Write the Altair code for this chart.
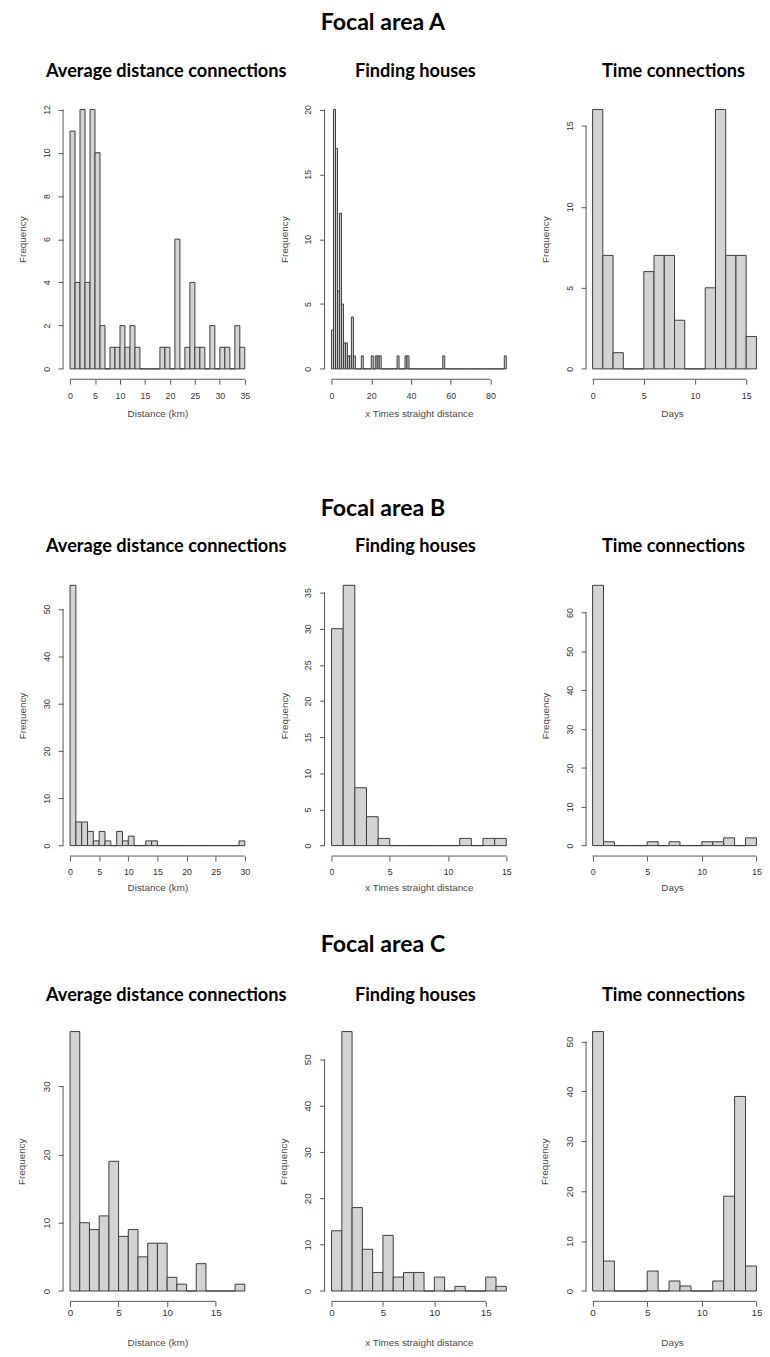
import altair as alt
import pandas as pd

# ---------------- data (counts per 1-unit bin, starting at 0) ----------------
A_avg_counts = [11, 4, 12, 4, 12, 10, 2, 0, 1, 1, 2, 1, 2, 1, 0, 0, 0, 0, 1, 1,
                0, 6, 0, 1, 4, 1, 1, 0, 2, 0, 1, 1, 0, 2, 1]
A_find_counts = [3, 20, 17, 6, 12, 5, 2, 2, 1, 1,
                 4, 1, 0, 0, 0, 1, 0, 0, 0, 0,
                 1, 0, 1, 1, 1, 0, 0, 0, 0, 0,
                 0, 0, 0, 1, 0, 0, 0, 1, 1, 0,
                 0, 0, 0, 0, 0, 0, 0, 0, 0, 0,
                 0, 0, 0, 0, 0, 0, 1, 0, 0, 0,
                 0, 0, 0, 0, 0, 0, 0, 0, 0, 0,
                 0, 0, 0, 0, 0, 0, 0, 0, 0, 0,
                 0, 0, 0, 0, 0, 0, 0, 1]
A_time_counts = [16, 7, 1, 0, 0, 6, 7, 7, 3, 0, 0, 5, 16, 7, 7, 2]

B_avg_counts = [55, 5, 5, 3, 1, 3, 1, 0, 3, 1, 2, 0, 0, 1, 1, 0, 0, 0, 0, 0,
                0, 0, 0, 0, 0, 0, 0, 0, 0, 1]
B_find_counts = [30, 36, 8, 4, 1, 0, 0, 0, 0, 0, 0, 1, 0, 1, 1]
B_time_counts = [67, 1, 0, 0, 0, 1, 0, 1, 0, 0, 1, 1, 2, 0, 2]

C_avg_counts = [38, 10, 9, 11, 19, 8, 9, 5, 7, 7, 2, 1, 0, 4, 0, 0, 0, 1]
C_find_counts = [13, 56, 18, 9, 4, 12, 3, 4, 4, 0, 3, 0, 1, 0, 0, 3, 1]
C_time_counts = [52, 6, 0, 0, 0, 4, 0, 2, 1, 0, 0, 2, 19, 39, 5]

# tick values
A_avg_xticks = [0, 5, 10, 15, 20, 25, 30, 35]
A_avg_yticks = [0, 2, 4, 6, 8, 10, 12]
A_find_xticks = [0, 20, 40, 60, 80]
A_find_yticks = [0, 5, 10, 15, 20]
A_time_xticks = [0, 5, 10, 15]
A_time_yticks = [0, 5, 10, 15]
B_avg_xticks = [0, 5, 10, 15, 20, 25, 30]
B_avg_yticks = [0, 10, 20, 30, 40, 50]
B_find_xticks = [0, 5, 10, 15]
B_find_yticks = [0, 5, 10, 15, 20, 25, 30, 35]
B_time_xticks = [0, 5, 10, 15]
B_time_yticks = [0, 10, 20, 30, 40, 50, 60]
C_avg_xticks = [0, 5, 10, 15]
C_avg_yticks = [0, 10, 20, 30]
C_find_xticks = [0, 5, 10, 15]
C_find_yticks = [0, 10, 20, 30, 40, 50]
C_time_xticks = [0, 5, 10, 15]
C_time_yticks = [0, 10, 20, 30, 40, 50]

area_titles = ["Focal area A", "Focal area B", "Focal area C"]
panel_titles = ["Average distance connections", "Finding houses", "Time connections"]
x_titles = ["Distance (km)", "x Times straight distance", "Days"]

# ---------------- layout / style ----------------
COL_W = [192, 192, 175]
ROW_H = [285, 286, 285]
TITLE_ROW_H = [56, 179, 148]
TITLE_ROW_DY = [-39, 32.5, 7]
ROW_CFG = [
    dict(xlabpad=8, xtitlepad=8, labsize=9, toff=19),
    dict(xlabpad=7, xtitlepad=6, labsize=9, toff=20),
    dict(xlabpad=1, xtitlepad=21, labsize=10, toff=17),
]
TITLE_DX = [9, -3.6, 1.5]
MAIN_DX = -36.6

BAR_FILL = "#d3d3d3"
BAR_STROKE = "#3a3a3a"
AXIS_COL = "#555555"
LAB_COL = "#333333"
TTL_COL = "#4a4a4a"
R_FONT = "Liberation Sans"
T_FONT = "Lato"


def panel(counts, xticks, yticks, row, col):
    n = len(counts)
    df = pd.DataFrame({"lo": list(range(n)), "hi": list(range(1, n + 1)), "count": counts})
    rpad = 0.04 if col < 2 else 0.01
    xs = alt.Scale(domain=[-0.04 * n, n + rpad * n], nice=False, zero=False)
    ymax = max(counts)
    ys = alt.Scale(domain=[-0.04 * ymax, 1.04 * ymax], nice=False, zero=False)
    cfg = ROW_CFG[row]
    W, H = COL_W[col], ROW_H[row]

    xaxis = alt.Axis(
        values=xticks, title=x_titles[col], domain=False, grid=False,
        tickSize=5, tickColor=AXIS_COL, labelFont=R_FONT, labelFontSize=cfg["labsize"],
        labelColor=LAB_COL, labelPadding=cfg["xlabpad"], labelFlush=False,
        labelOverlap=False, titleFont=R_FONT, titleFontSize=10, titleFontWeight="normal",
        titleColor=TTL_COL, titlePadding=cfg["xtitlepad"])
    yaxis = alt.Axis(
        values=yticks, title="Frequency", domain=False, grid=False,
        tickSize=5, tickColor=AXIS_COL, labelFont=R_FONT, labelFontSize=cfg["labsize"],
        labelColor=LAB_COL, labelAngle=-90, labelAlign="center", labelBaseline="bottom",
        labelPadding=7, labelFlush=False, labelOverlap=False,
        titleFont=R_FONT, titleFontSize=10, titleFontWeight="normal",
        titleColor=TTL_COL, titlePadding=15)

    bars = alt.Chart(df).mark_rect(fill=BAR_FILL, stroke=BAR_STROKE, strokeWidth=1).encode(
        x=alt.X("lo:Q", scale=xs, axis=xaxis),
        x2="hi:Q",
        y=alt.Y("count:Q", scale=ys, axis=yaxis),
        y2=alt.datum(0),
    )
    xline = alt.Chart(pd.DataFrame({"a": [xticks[0]], "b": [xticks[-1]]})).mark_rule(
        color=AXIS_COL, strokeWidth=1).encode(
        x=alt.X("a:Q", scale=xs, axis=xaxis), x2="b:Q", y=alt.value(H))
    yline = alt.Chart(pd.DataFrame({"a": [yticks[0]], "b": [yticks[-1]]})).mark_rule(
        color=AXIS_COL, strokeWidth=1).encode(
        y=alt.Y("a:Q", scale=ys, axis=yaxis), y2="b:Q", x=alt.value(0))
    return alt.layer(bars, xline, yline).properties(
        width=W, height=H,
        title=alt.TitleParams(panel_titles[col], font=T_FONT, fontSize=18.5, fontWeight="bold",
                              color="black", anchor="middle", offset=cfg["toff"], dx=TITLE_DX[col]))


def title_row(row):
    h = TITLE_ROW_H[row]
    def blank(w):
        return alt.Chart(pd.DataFrame({"t": [""]})).mark_text().encode(
            text="t:N").properties(width=w, height=h)
    mid = alt.Chart(pd.DataFrame({"t": [area_titles[row]]})).mark_text(
        font=T_FONT, fontSize=23.5, fontWeight="bold", color="black",
        dx=MAIN_DX, dy=TITLE_ROW_DY[row]).encode(text="t:N").properties(width=COL_W[1], height=h)
    return [blank(COL_W[0]), mid, blank(COL_W[2])]


data_rows = [
    [(A_avg_counts, A_avg_xticks, A_avg_yticks), (A_find_counts, A_find_xticks, A_find_yticks),
     (A_time_counts, A_time_xticks, A_time_yticks)],
    [(B_avg_counts, B_avg_xticks, B_avg_yticks), (B_find_counts, B_find_xticks, B_find_yticks),
     (B_time_counts, B_time_xticks, B_time_yticks)],
    [(C_avg_counts, C_avg_xticks, C_avg_yticks), (C_find_counts, C_find_xticks, C_find_yticks),
     (C_time_counts, C_time_xticks, C_time_yticks)],
]

items = []
for r, rowdata in enumerate(data_rows):
    items += title_row(r)
    for c, (cnt, xt, yt) in enumerate(rowdata):
        items.append(panel(cnt, xt, yt, r, c))

chart = alt.concat(*items, columns=3, spacing={"row": 10, "column": 74}, bounds="flush").properties(
    padding={"left": 9, "top": -8, "right": 0, "bottom": 2}, background="white"
).configure_view(strokeWidth=0)

chart.save("out.html", embed_options={"renderer": "svg", "actions": False})
